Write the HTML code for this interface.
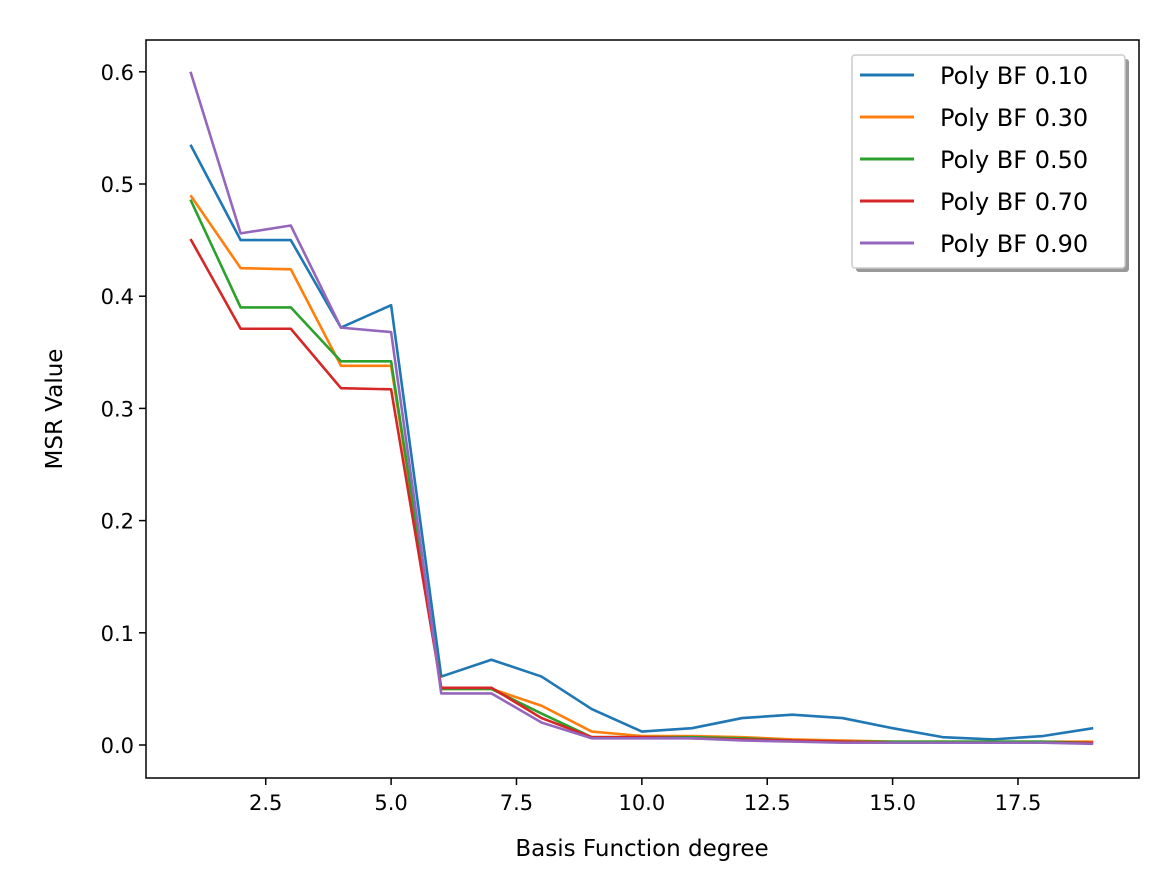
<!DOCTYPE html>
<html><head><meta charset="utf-8"><style>
body{margin:0;background:#fff}
svg text{font-family:"DejaVu Sans","Liberation Sans",sans-serif;fill:#000}
</style></head><body>
<svg id="c" width="1157" height="865" xmlns="http://www.w3.org/2000/svg"></svg>
<script>
const degrees=[1,2,3,4,5,6,7,8,9,10,11,12,13,14,15,16,17,18,19];
const seriesNames=["Poly BF 0.10","Poly BF 0.30","Poly BF 0.50","Poly BF 0.70","Poly BF 0.90"];
const s010=[0.535,0.45,0.45,0.372,0.392,0.061,0.076,0.061,0.032,0.012,0.015,0.024,0.027,0.024,0.015,0.007,0.005,0.008,0.015];
const s030=[0.49,0.425,0.424,0.338,0.338,0.050,0.050,0.035,0.012,0.008,0.008,0.007,0.005,0.004,0.003,0.003,0.003,0.003,0.003];
const s050=[0.486,0.39,0.39,0.342,0.342,0.050,0.050,0.028,0.007,0.007,0.007,0.006,0.004,0.003,0.003,0.003,0.003,0.003,0.002];
const s070=[0.451,0.371,0.371,0.318,0.317,0.051,0.051,0.024,0.007,0.007,0.006,0.005,0.004,0.003,0.002,0.002,0.002,0.002,0.002];
const s090=[0.60,0.456,0.463,0.372,0.368,0.046,0.046,0.020,0.006,0.006,0.006,0.004,0.003,0.002,0.002,0.002,0.002,0.002,0.001];
const xTicks=[2.5,5.0,7.5,10.0,12.5,15.0,17.5];
const yTicks=[0.0,0.1,0.2,0.3,0.4,0.5,0.6];
const colors=["#1f77b4","#ff7f0e","#2ca02c","#d62728","#9467bd"];
const all=[s010,s030,s050,s070,s090];
const svg=document.getElementById('c');
const NS="http://www.w3.org/2000/svg";
const L=146,R=1139,T=40,B=778;
const xs=v=>190.5+(v-1)*50.15;
const ys=v=>745-v*1122;
function mk(t,a,p){const e=document.createElementNS(NS,t);for(const k in a)e.setAttribute(k,a[k]);(p||svg).appendChild(e);return e;}
xTicks.forEach(t=>{
 const g=mk('g',{});
 
 
 mk('line',{x1:xs(t),x2:xs(t),y1:B,y2:B+7,stroke:'#000','stroke-width':1.5},g);
 const tx=mk('text',{x:xs(t),y:B+32,'text-anchor':'middle','font-size':21},g);tx.textContent=t.toFixed(1);
});
yTicks.forEach(t=>{
 const g=mk('g',{});
 
 
 mk('line',{x1:L-7,x2:L,y1:ys(t),y2:ys(t),stroke:'#000','stroke-width':1.5},g);
 const tx=mk('text',{x:L-12,y:ys(t)+8,'text-anchor':'end','font-size':21},g);tx.textContent=t.toFixed(1);
});
all.forEach((s,i)=>{
 const p=mk('polyline',{points:s.map((v,j)=>xs(degrees[j])+','+ys(v)).join(' '),fill:'none',stroke:colors[i],'stroke-width':2.6,'stroke-linejoin':'round'});
 
 
});
const frame=mk('rect',{x:L,y:T,width:R-L,height:B-T,fill:'none',stroke:'#000','stroke-width':1.5});


const xt=mk('text',{x:642,y:856,'text-anchor':'middle','font-size':23});xt.textContent='Basis Function degree';


const yt=mk('text',{x:0,y:0,'text-anchor':'middle','font-size':23,transform:'translate(62,409) rotate(-90)'});yt.textContent='MSR Value';


const lg=mk('g',{});


mk('rect',{x:856,y:59,width:273,height:213,fill:'#999',rx:3},lg);
mk('rect',{x:852,y:55,width:273,height:213,fill:'#fff',stroke:'#ccc','stroke-width':1.5,rx:3},lg);
seriesNames.forEach((n,i)=>{
 const g=mk('g',{},lg);
 
 
 const y=75+i*42;
 mk('line',{x1:860,x2:914,y1:y,y2:y,stroke:colors[i],'stroke-width':3},g);
 const t=mk('text',{x:940,y:y+9,'font-size':24},g);t.textContent=n;
});
</script>
</body></html>
